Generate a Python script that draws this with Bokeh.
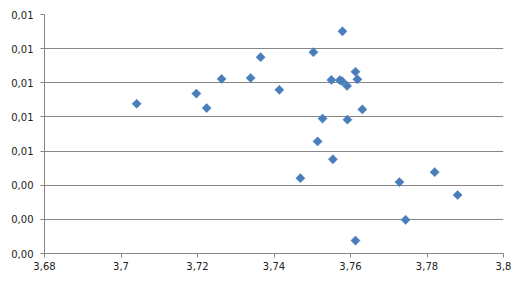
import math
from bokeh.plotting import figure
from bokeh.models import FixedTicker, CustomJSTickFormatter, Range1d, ColumnDataSource
from bokeh.embed import file_html
from bokeh.resources import INLINE

x_vals = [3.7041, 3.7197, 3.7224, 3.7263, 3.7339, 3.7365, 3.7414, 3.7503, 3.7469,
          3.7514, 3.7527, 3.7554, 3.7550, 3.7572, 3.7578, 3.7579, 3.7591, 3.7592,
          3.7613, 3.7618, 3.7613, 3.7631, 3.7728, 3.7744, 3.7820, 3.7880]
y_vals = [0.008772, 0.009370, 0.008516, 0.010224, 0.010282, 0.011502, 0.009585, 0.011793, 0.004415,
          0.006564, 0.007906, 0.005519, 0.010166, 0.010155, 0.010096, 0.013013, 0.009818, 0.007842,
          0.010648, 0.010201, 0.000755, 0.008441, 0.004183, 0.001975, 0.004764, 0.003427]

x_ticks = [3.68, 3.70, 3.72, 3.74, 3.76, 3.78, 3.80]
y_ticks = [0.0, 0.002, 0.004, 0.006, 0.008, 0.010, 0.012, 0.014]

src = ColumnDataSource(dict(x=x_vals, y=y_vals))

p = figure(width=511, height=272, output_backend="svg", toolbar_location=None,
           x_range=Range1d(3.68, 3.80), y_range=Range1d(0.0, 0.014),
           min_border_left=44, min_border_right=8, min_border_top=14, min_border_bottom=17)
p.outline_line_color = None
p.background_fill_color = "white"
p.border_fill_color = "white"

p.scatter("x", "y", source=src, marker="square", size=6.5, angle=math.pi / 4,
          fill_color="#4A7EBB", line_color="#4A7EBB", line_width=0.5)

p.xgrid.visible = False
p.ygrid.grid_line_color = "#868686"
p.ygrid.grid_line_width = 1

fmt_y = CustomJSTickFormatter(code="return tick.toFixed(2).replace('.', ',');")
fmt_x = CustomJSTickFormatter(code="return String(parseFloat(tick.toFixed(2))).replace('.', ',');")

p.xaxis.ticker = FixedTicker(ticks=x_ticks)
p.yaxis.ticker = FixedTicker(ticks=y_ticks)
p.xaxis.formatter = fmt_x
p.yaxis.formatter = fmt_y

for ax in (p.xaxis, p.yaxis):
    ax.axis_line_color = "#868686"
    ax.major_tick_line_color = "#868686"
    ax.major_tick_in = 0
    ax.major_tick_out = 4
    ax.minor_tick_line_color = None
    ax.major_label_text_font = "DejaVu Sans"
    ax.major_label_text_font_size = "10px"
    ax.major_label_text_color = "#222222"
p.yaxis.major_label_standoff = 7
p.xaxis.major_label_standoff = 4

open("out.html", "w").write(file_html(p, INLINE))
